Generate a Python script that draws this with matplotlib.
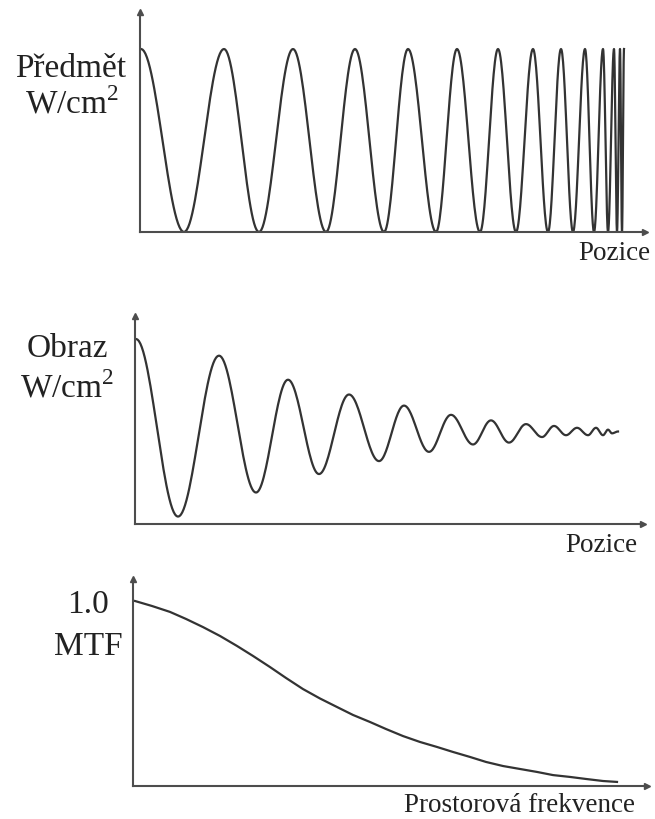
import numpy as np
import matplotlib.pyplot as plt

plt.rcParams['font.family'] = ['Liberation Serif', 'DejaVu Serif']
plt.rcParams['mathtext.fontset'] = 'custom'
plt.rcParams['mathtext.rm'] = 'Liberation Serif'

# Předmět - extrema of the test pattern (position, intensity)
obj_pos = [0, 43, 83, 118, 152, 185, 214, 243, 267, 295, 316, 339, 357, 375,
           392, 407, 420, 432, 444, 453, 462, 467, 473, 476, 479, 481, 483]
obj_val = [1, 0, 1, 0, 1, 0, 1, 0, 1, 0, 1, 0, 1, 0,
           1, 0, 1, 0, 1, 0, 1, 0, 1, 0, 1, 0, 1]

# Obraz - extrema of the blurred image
img_pos = [0, 42, 83, 120, 152, 183, 213, 243, 268, 293, 315, 337, 355,
           373, 390, 406, 418, 430, 441, 452, 460, 467, 472, 476, 482]
img_val = [1.0, 0.04, 0.91, 0.17, 0.78, 0.27, 0.70, 0.34, 0.64, 0.39, 0.59,
           0.43, 0.56, 0.44, 0.54, 0.47, 0.53, 0.48, 0.52, 0.48, 0.52, 0.48,
           0.51, 0.49, 0.50]

# MTF curve
mtf_freq = [2, 19, 37, 53, 70, 87, 104, 120, 137, 153, 170, 187, 204, 220, 237,
            253, 270, 287, 304, 320, 337, 353, 370, 387, 404, 420, 437, 453, 470, 484]
mtf_val = [1.0, 0.973, 0.941, 0.903, 0.859, 0.811, 0.757, 0.703, 0.643, 0.584,
           0.524, 0.473, 0.427, 0.384, 0.346, 0.308, 0.270, 0.238, 0.211, 0.184,
           0.157, 0.130, 0.108, 0.092, 0.076, 0.059, 0.049, 0.038, 0.027, 0.022]

W, H = 655, 820
line_col = '#333333'
axis_col = '#4d4d4d'


def trace(pos, val, n=30):
    # smooth half-cosine between consecutive extrema
    xs, ys = [], []
    for i in range(len(pos) - 1):
        t = np.linspace(0, 1, n)
        xs.append(pos[i] + (pos[i + 1] - pos[i]) * t)
        ys.append(val[i] + (val[i + 1] - val[i]) * (1 - np.cos(np.pi * t)) / 2)
    return np.concatenate(xs), np.concatenate(ys)


def panel(ox, oy, right, top, yunit):
    ax = fig.add_axes([ox / W, 1 - oy / H, (right - ox) / W, (oy - top) / H])
    ax.set_xlim(0, right - ox)
    ax.set_ylim(0, (oy - top) / yunit)
    ax.spines[['top', 'right']].set_visible(False)
    ax.spines[['left', 'bottom']].set_color(axis_col)
    ax.spines[['left', 'bottom']].set_linewidth(1.5)
    ax.set_xticks([])
    ax.set_yticks([])
    ax.patch.set_alpha(0)
    ax.plot(1, 0, '>', color=axis_col, ms=5, transform=ax.transAxes, clip_on=False)
    ax.plot(0, 1, '^', color=axis_col, ms=5, transform=ax.transAxes, clip_on=False)
    return ax


def label(x, y, s, size):
    fig.text(x / W, 1 - y / H, s, ha='center', va='baseline', fontsize=size, color='#222222')


fig = plt.figure(figsize=(6.55, 8.2), dpi=100)

ax1 = panel(140, 233, 645, 13, 183)
x, y = trace(obj_pos, obj_val)
ax1.plot(x + 1, y, color=line_col, lw=1.6)

ax2 = panel(135, 525, 643, 317, 185)
x, y = trace(img_pos, img_val)
ax2.plot(x + 1, y, color=line_col, lw=1.6)

ax3 = panel(133, 787, 647, 580, 185)
ax3.plot(mtf_freq, mtf_val, color=line_col, lw=1.6)

label(71, 77, 'Předmět', 24)
label(72, 113, r'W/cm$^{\mathrm{2}}$', 24)
label(67, 357, 'Obraz', 24)
label(67, 398, r'W/cm$^{\mathrm{2}}$', 24)
label(88, 613, '1.0', 24)
label(88, 655, 'MTF', 24)
fig.text(650 / W, 1 - 260 / H, 'Pozice', ha='right', va='baseline', fontsize=19.5, color='#222222')
fig.text(637 / W, 1 - 552 / H, 'Pozice', ha='right', va='baseline', fontsize=19.5, color='#222222')
fig.text(635 / W, 1 - 812 / H, 'Prostorová frekvence', ha='right', va='baseline',
         fontsize=19.5, color='#222222')

fig.savefig('out.png', dpi=100)
